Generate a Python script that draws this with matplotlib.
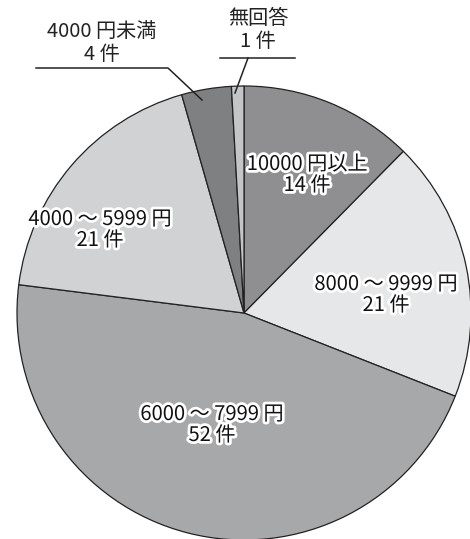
#!/usr/bin/env python

import numpy as np
import matplotlib
matplotlib.use('Agg')
import matplotlib.pyplot as plt
import matplotlib.patheffects as pe

plt.rcParams['font.family'] = ['Noto Sans CJK JP', 'DejaVu Sans']

# data (clockwise from 12 o'clock)
labels = ['10000 円以上', '8000 〜 9999 円', '6000 〜 7999 円',
          '4000 〜 5999 円', '4000 円未満', '無回答']
counts = [14, 21, 52, 21, 4, 1]
colors = ['#8f8f91', '#e6e7e8', '#a7a8aa', '#d1d2d4', '#7f8082', '#c4c5c7']

W, H = 470, 539
cx, cy, R = 244, 313, 227   # pie centre / radius in pixels


def px(x, y):
    return (x - cx)/R, (cy - y)/R

# label centres in pixels
inside_pos = {0: (307, 175), 1: (386, 295), 2: (212, 425), 3: (100, 230)}
outside_pos = {4: (102, 43), 5: (258, 30)}

fig = plt.figure(figsize=(W/100, H/100), dpi=100)
ax = fig.add_axes([0, 0, 1, 1])

wedges, _ = ax.pie(counts, colors=colors, startangle=90, counterclock=False,
                   radius=1.0, wedgeprops={'edgecolor': '#222222', 'linewidth': 0.9})

ax.set_xlim(-cx/R, (W-cx)/R)
ax.set_ylim(-(H-cy)/R, cy/R)
ax.set_aspect('equal')
ax.axis('off')

halo = [pe.withStroke(linewidth=4, foreground='white')]

for i, p in inside_pos.items():
    x, y = px(*p)
    ax.text(x, y, '%s\n%d 件' % (labels[i], counts[i]), ha='center', va='center',
            fontsize=14.5, linespacing=1.0, color='#111111', path_effects=halo)

for i, p in outside_pos.items():
    x, y = px(*p)
    ax.text(x, y, '%s\n%d 件' % (labels[i], counts[i]), ha='center', va='center',
            fontsize=14.5, linespacing=1.1, color='#222222')

# leader lines
for pts in [[(36, 68), (168, 68), (202, 100)],
            [(220, 58), (295, 58)],
            [(248, 58), (235, 93)]]:
    xy = np.array([px(*p) for p in pts])
    ax.plot(xy[:, 0], xy[:, 1], color='#222222', lw=1.1)

fig.savefig('out.png', dpi=100, facecolor='white')
